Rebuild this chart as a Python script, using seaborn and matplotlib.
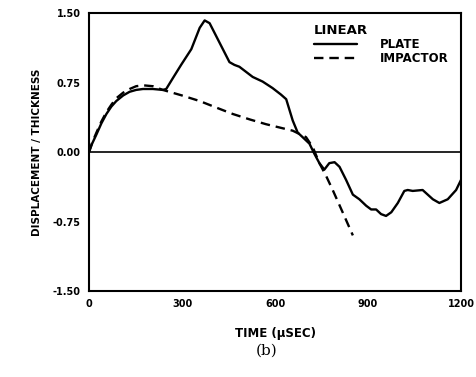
import numpy as np
import pandas as pd
import matplotlib
matplotlib.use("Agg")
import matplotlib.pyplot as plt
import seaborn as sns

# plate displacement (solid)
plate_t = [0, 10, 24, 40, 56, 72, 88, 110, 131, 152, 174, 206, 238, 249, 271, 297, 330,
           357, 373, 389, 421, 453, 469, 485, 528, 560, 592, 619, 636, 657, 673, 689,
           711, 727, 743, 759, 775, 792, 808, 829, 851, 872, 894, 910, 926, 942, 958,
           975, 996, 1017, 1028, 1044, 1076, 1109, 1130, 1157, 1184, 1200]
plate_d = [0.0, 0.09, 0.19, 0.31, 0.41, 0.49, 0.55, 0.61, 0.65, 0.67, 0.68, 0.68, 0.67,
           0.68, 0.80, 0.94, 1.11, 1.34, 1.42, 1.39, 1.18, 0.97, 0.94, 0.92, 0.81, 0.76,
           0.69, 0.62, 0.57, 0.34, 0.21, 0.16, 0.09, -0.02, -0.12, -0.19, -0.12, -0.11,
           -0.16, -0.30, -0.46, -0.51, -0.58, -0.62, -0.62, -0.67, -0.69, -0.65, -0.55,
           -0.42, -0.41, -0.42, -0.41, -0.51, -0.55, -0.51, -0.41, -0.30]

# impactor displacement (dashed)
imp_t = [0, 10, 24, 40, 56, 72, 88, 110, 131, 152, 174, 206, 238, 300, 357, 410, 464,
         520, 571, 620, 657, 700, 722, 743, 765, 786, 818, 851]
imp_d = [0.0, 0.10, 0.21, 0.33, 0.43, 0.51, 0.58, 0.64, 0.68, 0.71, 0.72, 0.71, 0.67,
         0.61, 0.55, 0.48, 0.41, 0.35, 0.30, 0.26, 0.23, 0.16, 0.05, -0.12, -0.26,
         -0.41, -0.65, -0.90]

df = pd.concat([
    pd.DataFrame({"t": plate_t, "d": plate_d, "series": "PLATE"}),
    pd.DataFrame({"t": imp_t, "d": imp_d, "series": "IMPACTOR"}),
])

sns.set_style("white")
plt.rcParams["font.family"] = ["DejaVu Sans"]
plt.rcParams["text.color"] = "black"
plt.rcParams["axes.labelcolor"] = "black"

fig = plt.figure(figsize=(4.77, 3.77), dpi=100)
ax = fig.add_axes([0.1866, 0.2281, 0.78, 0.7374])

sns.lineplot(data=df, x="t", y="d", style="series", sort=False, color="black",
             linewidth=1.7, dashes={"PLATE": "", "IMPACTOR": (4, 2.5)}, ax=ax)

ax.axhline(0, color="black", linewidth=1.2)
ax.set_xlim(0, 1200)
ax.set_ylim(-1.5, 1.5)
ax.set_xticks([0, 300, 600, 900, 1200])
ax.set_yticks([-1.5, -0.75, 0, 0.75, 1.5])
ax.set_yticklabels(["-1.50", "-0.75", "0.00", "0.75", "1.50"])
ax.tick_params(direction="in", length=5, width=1.2, labelsize=7, pad=6, colors="black")
for lab in ax.get_xticklabels() + ax.get_yticklabels():
    lab.set_fontweight("bold")
for s in ax.spines.values():
    s.set_color("black")
    s.set_linewidth(1.5)

ax.set_xlabel("TIME (\u03bcSEC)", fontsize=8.5, fontweight="bold", labelpad=13)
ax.set_ylabel("DISPLACEMENT / THICKNESS", fontsize=7.5, fontweight="bold", labelpad=8)

leg = ax.legend(title="LINEAR", loc="upper right", bbox_to_anchor=(0.99, 0.99),
                frameon=False, handlelength=3.6, handletextpad=2.0, fontsize=8.5,
                title_fontsize=9.5, labelspacing=0.1, borderaxespad=0.3)
leg._legend_box.align = "left"
leg.get_title().set_fontweight("bold")
leg.get_title().set_color("black")
for t in leg.get_texts():
    t.set_fontweight("bold")
    t.set_color("black")

fig.text(0.56, 0.06, "(b)", family="DejaVu Serif", fontsize=11, ha="center", color="black")

fig.savefig("out.png", dpi=100)
